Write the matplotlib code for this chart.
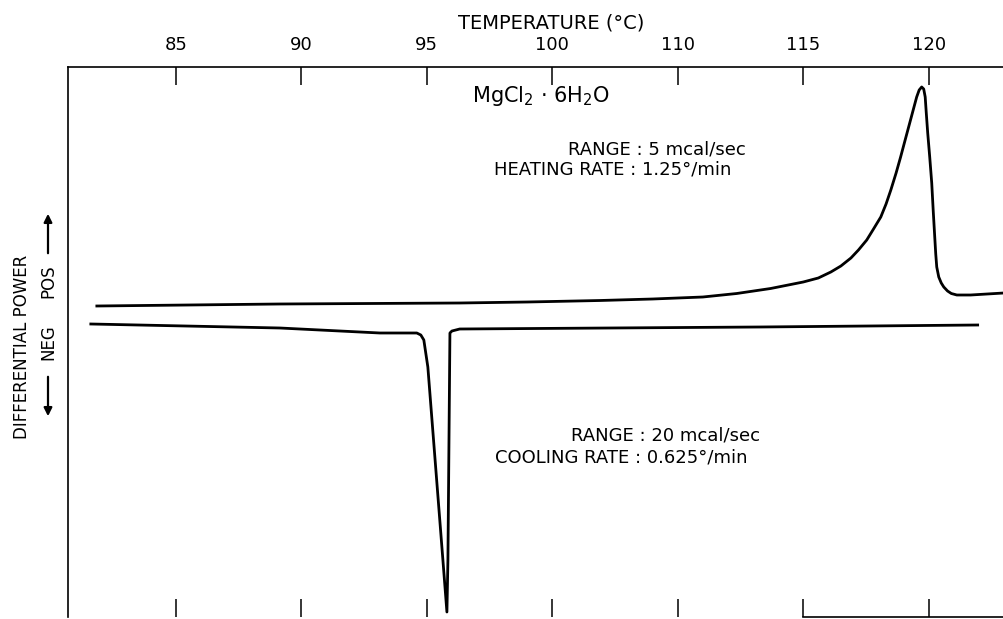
import matplotlib
matplotlib.use("Agg")
import matplotlib.pyplot as plt

# temperature axis (chart units) and printed labels as on the original
tick_pos = [85, 90, 95, 100, 105, 110, 115]
tick_labels = ["85", "90", "95", "100", "110", "115", "120"]

# heating trace (upper curve)
heat_t = [81.85, 89.14, 96.31, 99.0, 101.9, 104.0, 106.0, 107.35, 108.7, 110.0,
          110.6, 111.1, 111.5, 111.9, 112.2, 112.53, 112.8, 113.09, 113.3, 113.49,
          113.7, 113.88, 114.05, 114.20, 114.36, 114.52, 114.62, 114.72, 114.80,
          114.86, 114.90, 114.96, 115.04, 115.12, 115.18, 115.24, 115.28, 115.32,
          115.40, 115.50, 115.60, 115.75, 115.90, 116.12, 116.67, 117.99]
heat_p = [31.1, 31.3, 31.4, 31.5, 31.65, 31.8, 32.0, 32.35, 32.85, 33.5,
          33.9, 34.5, 35.1, 35.9, 36.7, 37.7, 38.8, 40.0, 41.3, 42.7,
          44.4, 46.0, 47.6, 49.0, 50.5, 52.0, 52.7, 53.0, 52.8,
          52.0, 50.5, 48.4, 46.0, 43.4, 40.6, 38.0, 36.3, 35.0,
          34.0, 33.4, 33.0, 32.6, 32.35, 32.2, 32.2, 32.4]

# cooling trace (lower curve)
cool_t = [81.61, 89.14, 93.13, 94.60, 94.76, 94.88, 95.04, 95.64, 95.80,
          95.84, 95.92, 96.00, 96.31, 108.27, 116.95]
cool_p = [29.3, 28.9, 28.4, 28.4, 28.2, 27.7, 25.0, 5.7, 0.5,
          5.7, 28.4, 28.6, 28.8, 29.0, 29.2]

W, H = 1004, 619


def px(x, y):
    return x / W, 1 - y / H


fig = plt.figure(figsize=(W / 100, H / 100), dpi=100)
ax = fig.add_axes([68 / W, 2 / H, 936 / W, 550 / H])

ax.plot(heat_t, heat_p, color="black", lw=2.0, solid_joinstyle="round")
ax.plot(cool_t, cool_p, color="black", lw=2.0, solid_joinstyle="round")

ax.set_xlim(80.7, 118.0)
ax.set_ylim(0, 55)

ax.set_xticks(tick_pos)
ax.set_xticklabels(tick_labels)
ax.xaxis.tick_top()
ax.tick_params(axis="x", which="both", direction="in", top=True, bottom=True,
               labeltop=True, labelbottom=False, length=13, width=1.1,
               pad=9, labelsize=13)
ax.set_yticks([])

for s in ["top", "left", "bottom"]:
    ax.spines[s].set_linewidth(1.2)
ax.spines["right"].set_visible(False)
ax.spines["bottom"].set_bounds(110, 118)

fig.text(*px(551, 23), "TEMPERATURE (°C)", ha="center", va="center", fontsize=14)
fig.text(*px(541, 96), "MgCl$_2$ · 6H$_2$O", ha="center", va="center", fontsize=15)

fig.text(*px(657, 149), "RANGE : 5 mcal/sec", ha="center", va="center", fontsize=13)
fig.text(*px(613, 170), "HEATING RATE : 1.25°/min", ha="center", va="center", fontsize=13)
fig.text(*px(666, 436), "RANGE : 20 mcal/sec", ha="center", va="center", fontsize=13)
fig.text(*px(621, 457), "COOLING RATE : 0.625°/min", ha="center", va="center", fontsize=13)

fig.text(*px(22, 347), "DIFFERENTIAL POWER", rotation=90, ha="center", va="center", fontsize=12)
fig.text(*px(48, 281), "POS", rotation=90, ha="center", va="center", fontsize=12)
fig.text(*px(48, 342), "NEG", rotation=90, ha="center", va="center", fontsize=12)

arrow = dict(arrowstyle="-|>", color="black", lw=1.6, mutation_scale=12)
ax.annotate("", xy=px(48, 211), xytext=px(48, 256), xycoords="figure fraction",
            textcoords="figure fraction", arrowprops=arrow, annotation_clip=False)
ax.annotate("", xy=px(48, 419), xytext=px(48, 374), xycoords="figure fraction",
            textcoords="figure fraction", arrowprops=arrow, annotation_clip=False)

fig.savefig("out.png", dpi=100)
